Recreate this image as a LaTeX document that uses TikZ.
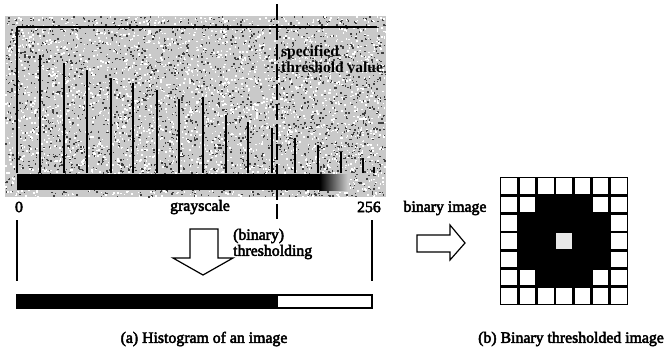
\documentclass[tikz,border=0pt]{standalone}
\usepackage{fontspec}
\setmainfont{Liberation Serif}[BoldFont=Liberation Serif, BoldFeatures={FakeBold=3}]
\newfontfamily\heavyfont{Liberation Serif Bold}
\usetikzlibrary{shapes.arrows}

\begin{document}
\begin{tikzpicture}[x=1pt,y=-1pt,
  lbl/.style={font=\fontsize{15.8}{16}\selectfont\bfseries, inner sep=0pt},
  histbar/.style={line width=2.2pt},
  bigarrow/.style={draw=black, fill=white, line width=1.2pt, line join=miter},
  cellw/.style={fill=white},
  cellg/.style={fill=gray!18}]
\useasboundingbox (0,0) rectangle (670,354);
\fill[white] (0,0) rectangle (670,354);

% speckled grey background of the histogram plate
\fill[gray!42] (5,16) rectangle (386,197);
\pgfmathsetseed{4711}
\foreach \k in {1,...,2600}{
  \pgfmathsetmacro\px{5+380*rnd}
  \pgfmathsetmacro\py{16+180*rnd}
  \fill[black!75] (\px,\py) rectangle ++(1.5,1.5);
}
\foreach \k in {1,...,2600}{
  \pgfmathsetmacro\px{5+380*rnd}
  \pgfmathsetmacro\py{16+180*rnd}
  \fill[white] (\px,\py) rectangle ++(1.6,1.6);
}

% axes of the histogram
\coordinate (origin) at (17,173);
\coordinate (ytop) at (17,27);
\coordinate (xend) at (377,27);
\draw[line width=2.4pt] (origin) -- (ytop);
\draw[line width=1.4pt] (ytop) -- (xend);

% histogram bars
\foreach \bx/\by in {40/55, 64/63, 87/70, 111/78, 133/83, 157/90, 179/99,
  203/97, 226/115, 248/122, 272/128, 295/138, 318/145, 341/152, 363/158, 374/167}{
  \draw[histbar] (\bx,173) -- (\bx,\by);
}

% grey-level scale strip
\fill[black] (17,174) rectangle (322,190);
\shade[left color=black, right color=gray!40] (320,174) rectangle (348,190);

% threshold marker
\coordinate (thrtop) at (277,4);
\coordinate (thrbot) at (277,219);
\draw[line width=1.8pt, dash pattern=on 16pt off 4pt] (thrtop) -- (thrbot);
\node[inner sep=0pt, anchor=west, align=left, font=\fontsize{15.5}{16}\selectfont\heavyfont]
  (thrlbl) at (281,59) {specified\\threshold value};

% scale labels
\node[lbl] (zero) at (19,207) {0};
\node[lbl] (gs) at (200,207) {grayscale};
\node[lbl, anchor=east] (max) at (381,207) {256};

% thresholding step
\coordinate (l1) at (17,220);
\coordinate (l2) at (17,281);
\coordinate (r1) at (372,220);
\coordinate (r2) at (372,281);
\draw[line width=1.2pt] (l1) -- (l2);
\draw[line width=1.2pt] (r1) -- (r2);

% block arrow pointing down
\draw[bigarrow] (190,229) -- (218,229) -- (218,258) -- (233,258) -- (203,275)
  -- (173,258) -- (190,258) -- cycle;
\node[lbl, anchor=west, align=left] (thrtxt) at (233,244) {(binary)\\thresholding};

% binary scale strip
\draw[line width=1.2pt, fill=white] (17,295) rectangle (372,308);
\fill[black] (17,295) rectangle (278,308);

\node[lbl] (capa) at (204,339) {(a) Histogram of an image};

% binary image label and block arrow pointing right
\node[lbl] (binlbl) at (445,208) {binary image};
\draw[bigarrow] (417,235) -- (450,235) -- (450,225) -- (465,243) -- (450,260)
  -- (450,252) -- (417,252) -- cycle;

% 7x7 binary image
\def\gx{500}
\def\gy{177}
\def\cs{18.3}
\fill[black] (\gx,\gy) rectangle ({\gx+7*\cs},{\gy+7*\cs});
\foreach \r in {0,...,6}{
  \foreach \c in {0,...,6}{
    \pgfmathtruncatemacro\inner{(\r>0)&&(\r<6)&&(\c>0)&&(\c<6)}
    \pgfmathtruncatemacro\corner{((\r==1)||(\r==5))&&((\c==1)||(\c==5))}
    \pgfmathtruncatemacro\middle{(\r==3)&&(\c==3)}
    \ifnum\inner=0
      \fill[cellw] ({\gx+\c*\cs+1.4},{\gy+\r*\cs+1.4}) rectangle ++({\cs-2.8},{\cs-2.8});
    \else\ifnum\corner=1
      \fill[cellw] ({\gx+\c*\cs+1.4},{\gy+\r*\cs+1.4}) rectangle ++({\cs-2.8},{\cs-2.8});
    \else\ifnum\middle=1
      \fill[cellg] ({\gx+\c*\cs+1.4},{\gy+\r*\cs+1.4}) rectangle ++({\cs-2.8},{\cs-2.8});
    \fi\fi\fi
  }
}
\node[lbl] (capb) at (571,339) {(b) Binary thresholded image};
\end{tikzpicture}
\end{document}
